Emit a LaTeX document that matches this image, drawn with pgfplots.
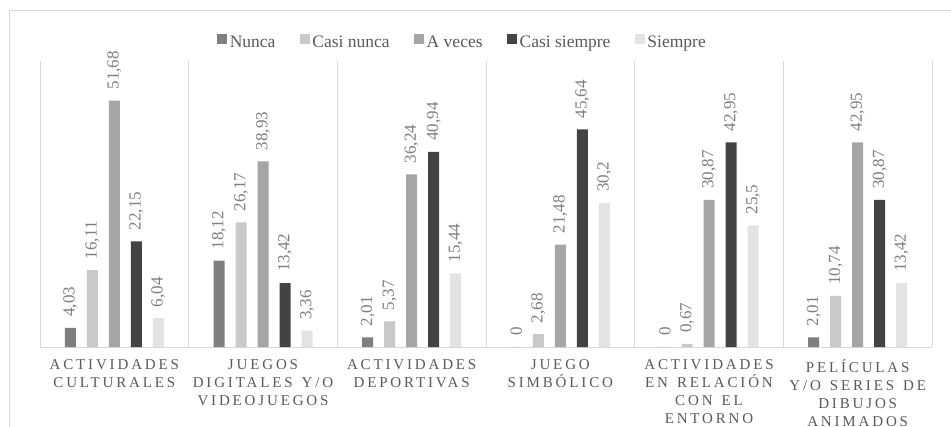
\documentclass[border=0pt]{standalone}
\usepackage{pgfplots}
\pgfplotsset{compat=1.18}
\usepackage{fontspec}
\setmainfont{Liberation Serif}
\newfontfamily\catfont[LetterSpace=19]{Liberation Serif}
\newcommand\gap{\hspace{9bp}}

\definecolor{cNunca}{HTML}{7F7F7F}
\definecolor{cCasiNunca}{HTML}{C9C9C9}
\definecolor{cAVeces}{HTML}{A5A5A5}
\definecolor{cCasiSiempre}{HTML}{434343}
\definecolor{cSiempre}{HTML}{E3E3E3}
\definecolor{lineg}{HTML}{D9D9D9}
\definecolor{txt}{HTML}{595959}
\definecolor{vtxt}{HTML}{7F7F7F}

\begin{document}
\begin{tikzpicture}
\useasboundingbox (-40bp,-80bp) rectangle (911bp,347bp);
\draw[draw=lineg, line width=0.75bp] (-31bp,-120bp) -- (-31bp,337bp) -- (1000bp,337bp);
\begin{axis}[
  width=892bp, height=286bp, scale only axis,
  ybar=11bp, bar width=11bp,
  xmin=-0.5, xmax=5.5, ymin=0, ymax=60,
  axis line style={draw=none},
  ytick=\empty,
  xtick={0,1,2,3,4,5},
  xticklabels={
    {ACTIVIDADES\\CULTURALES},
    {JUEGOS\\DIGITALES\gap Y/O\\VIDEOJUEGOS},
    {ACTIVIDADES\\DEPORTIVAS},
    {JUEGO\\SIMBÓLICO},
    {ACTIVIDADES\\EN\gap RELACIÓN\\CON\gap EL\\ENTORNO},
    {PELÍCULAS\\Y/O\gap SERIES\gap DE\\DIBUJOS\\ANIMADOS}},
  major tick length=0pt,
  extra x ticks={-0.5,0.5,1.5,2.5,3.5,4.5,5.5},
  extra x tick labels={},
  extra x tick style={grid=major, major grid style={draw=lineg, line width=0.75bp}},
  extra y ticks={0},
  extra y tick labels={},
  extra y tick style={grid=major, major grid style={draw=lineg, line width=0.75bp}},
  xticklabel style={font={\catfont\fontsize{15bp}{18bp}\selectfont}, text=txt,
    align=center, text width=160bp, anchor=north, yshift=-9bp},
  nodes near coords,
  every node near coord/.append style={font={\fontsize{17bp}{20bp}\selectfont},
    text=vtxt, yshift=11bp, rotate=90, anchor=west, inner sep=0pt},
  /pgf/number format/use comma,
  /pgf/number format/assume math mode=true,
  legend columns=5,
  legend style={at={(0.474,1.066)}, anchor=center, draw=none, fill=none,
    font={\fontsize{17.5bp}{21bp}\selectfont}, text=txt,
    nodes={inner sep=2.5bp},
    /tikz/every even column/.append style={column sep=22bp}},
  legend image code/.code={\fill[#1] (0bp,-2bp) rectangle (10bp,8bp);},
]
\addplot[fill=cNunca, draw=none] coordinates {(0,4.03) (1,18.12) (2,2.01) (3,0) (4,0) (5,2.01)};
\addplot[fill=cCasiNunca, draw=none] coordinates {(0,16.11) (1,26.17) (2,5.37) (3,2.68) (4,0.67) (5,10.74)};
\addplot[fill=cAVeces, draw=none] coordinates {(0,51.68) (1,38.93) (2,36.24) (3,21.48) (4,30.87) (5,42.95)};
\addplot[fill=cCasiSiempre, draw=none] coordinates {(0,22.15) (1,13.42) (2,40.94) (3,45.64) (4,42.95) (5,30.87)};
\addplot[fill=cSiempre, draw=none] coordinates {(0,6.04) (1,3.36) (2,15.44) (3,30.2) (4,25.5) (5,13.42)};
\legend{Nunca, Casi nunca, A veces, Casi siempre, Siempre}
\end{axis}
\end{tikzpicture}
\end{document}
